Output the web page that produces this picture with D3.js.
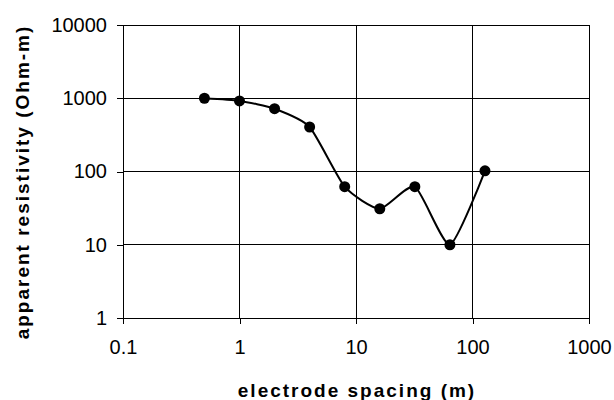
<!DOCTYPE html>
<html>
<head>
<meta charset="utf-8">
<script src="https://cdn.jsdelivr.net/npm/d3@7"></script>
<style>
 body { margin: 0; background: #fff; }
 text { font-family: "Liberation Sans", Arial, sans-serif; fill: #000; }
</style>
</head>
<body>
<div id="chart"></div>
<script>
// electrode spacing (m) and apparent resistivity (Ohm-m)
var spacing = [0.5, 1, 2, 4, 8, 16, 32, 64, 128];
var resistivity = [1000, 920, 720, 405, 62, 31, 62, 10, 102];
var xTicks = [0.1, 1, 10, 100, 1000];
var yTicks = [1, 10, 100, 1000, 10000];

var margin = {top: 25, right: 25, bottom: 82, left: 123},
    width = 614 - margin.left - margin.right,
    height = 400 - margin.top - margin.bottom;

var svg = d3.select("#chart")
  .append("svg")
  .attr("width", 614)
  .attr("height", 400)
  .append("g")
  .attr("transform", "translate(" + margin.left + "," + margin.top + ")");

var x = d3.scaleLog().domain([0.1, 1000]).range([0, width]);
var y = d3.scaleLog().domain([1, 10000]).range([height, 0]);

// gridlines
svg.append("g")
  .selectAll("line")
  .data(yTicks)
  .enter().append("line")
  .attr("x1", 0).attr("x2", width)
  .attr("y1", function(d) { return y(d); })
  .attr("y2", function(d) { return y(d); })
  .attr("stroke", "#000").attr("shape-rendering", "crispEdges");
svg.append("g")
  .selectAll("line")
  .data(xTicks)
  .enter().append("line")
  .attr("y1", 0).attr("y2", height)
  .attr("x1", function(d) { return x(d); })
  .attr("x2", function(d) { return x(d); })
  .attr("stroke", "#000").attr("shape-rendering", "crispEdges");

// axes
var xAxis = svg.append("g")
  .attr("transform", "translate(0," + height + ")")
  .call(d3.axisBottom(x).tickValues(xTicks).tickFormat(d3.format("~g")).tickSizeInner(6).tickSizeOuter(0).tickPadding(16));
var yAxis = svg.append("g")
  .call(d3.axisLeft(y).tickValues(yTicks).tickFormat(d3.format("~g")).tickSizeInner(6).tickSizeOuter(0).tickPadding(10));
[xAxis, yAxis].forEach(function(a) {
  a.select(".domain").attr("stroke", "#000").attr("shape-rendering", "crispEdges");
  a.selectAll(".tick line").attr("stroke", "#000").attr("shape-rendering", "crispEdges");
  a.selectAll("text").style("font-size", "20px").style("font-family", "Liberation Sans, Arial, sans-serif");
});

// smoothed line
var line = d3.line()
  .x(function(d, i) { return x(spacing[i]); })
  .y(function(d) { return y(d); })
  .curve(d3.curveCardinal.tension(0.4));
svg.append("path")
  .datum(resistivity)
  .attr("d", line)
  .attr("fill", "none")
  .attr("stroke", "#000")
  .attr("stroke-width", 2);

svg.selectAll("circle")
  .data(resistivity)
  .enter().append("circle")
  .attr("cx", function(d, i) { return x(spacing[i]); })
  .attr("cy", function(d) { return y(d); })
  .attr("r", 5.5)
  .attr("fill", "#000");

// titles
svg.append("text")
  .attr("x", width / 2 + 1)
  .attr("y", 372)
  .attr("text-anchor", "middle")
  .style("font-size", "19px")
  .style("font-weight", "bold")
  .style("letter-spacing", "2px")
  .text("electrode spacing (m)");

svg.append("text")
  .attr("transform", "translate(-94,157) rotate(-90)")
  .attr("text-anchor", "middle")
  .style("font-size", "19px")
  .style("font-weight", "bold")
  .style("letter-spacing", "2px")
  .text("apparent resistivity (Ohm-m)");
</script>
</body>
</html>
